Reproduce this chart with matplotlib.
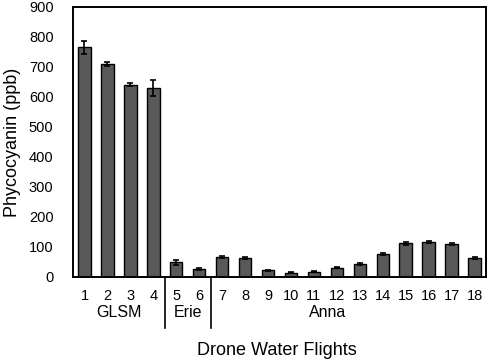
import matplotlib
matplotlib.use("Agg")
import matplotlib.pyplot as plt
from matplotlib.patches import Rectangle

plt.rcParams['font.family'] = ['Liberation Sans', 'DejaVu Sans']

# Data
flights = list(range(1, 19))
phycocyanin = [765, 710, 640, 629, 49, 26, 67, 64, 22, 14, 18, 31, 44, 77, 112, 117, 110, 64]
errors = [21, 8, 5, 26, 8, 3, 3, 3, 2, 2, 2, 2, 3, 3, 4, 4, 4, 3]
groups = ['GLSM', 'Erie', 'Anna']
group_centers = [2.5, 5.5, 11.6]
group_breaks = [4.5, 6.5]

fig = plt.figure(figsize=(4.98, 3.61), dpi=100)
ax = fig.add_axes([0.1466, 0.2327, 0.8293, 0.7480])

ax.bar(flights, phycocyanin, width=0.54, color='#595959', edgecolor='black',
       linewidth=1.0, yerr=errors, capsize=2.5,
       error_kw=dict(ecolor='black', elinewidth=1.2, capthick=1.2))

ax.set_xlim(0.5, 18.5)
ax.set_ylim(0, 900)
ax.set_yticks(range(0, 901, 100))
ax.set_xticks(flights)
ax.tick_params(axis='both', length=0, labelsize=10.5)
ax.tick_params(axis='y', pad=14)
ax.tick_params(axis='x', pad=9)
for s in ax.spines.values():
    s.set_visible(True)
    s.set_color('black')
    s.set_linewidth(1.2)
# explicit frame so the box shows on all four sides
ax.add_patch(Rectangle((0, 0), 1, 1, transform=ax.transAxes, fill=False,
                       edgecolor='black', linewidth=1.2, clip_on=False, zorder=5))

ax.set_ylabel('Phycocyanin (ppb)', fontsize=13, labelpad=6)

for xb in group_breaks:
    ax.plot([xb, xb], [0, -0.19], transform=ax.get_xaxis_transform(),
            color='black', linewidth=1.2, clip_on=False)
for name, xc in zip(groups, group_centers):
    ax.text(xc, -0.133, name, transform=ax.get_xaxis_transform(),
            ha='center', va='center', fontsize=11.5)

fig.text(0.555, 0.03, 'Drone Water Flights', ha='center', va='center', fontsize=13)

fig.savefig('out.png', dpi=100)
